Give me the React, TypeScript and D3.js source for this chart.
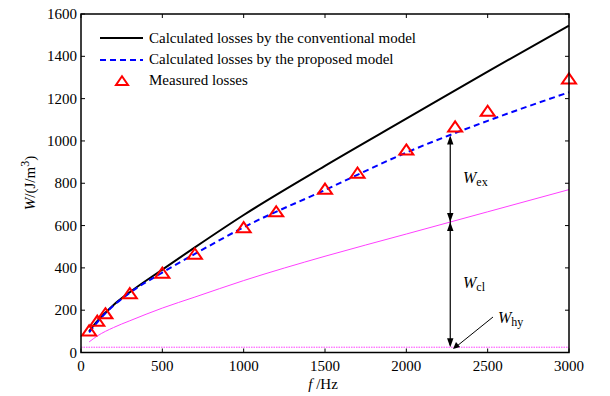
import React from "react";
import * as d3 from "d3";

const freqCurve = [50, 100, 200, 300, 500, 700, 1000, 1500, 2000, 2500, 3000];
const conventional = [100, 148, 225, 285, 392, 497, 650, 882, 1105, 1328, 1545];
const proposed = [95, 143, 222, 282, 378, 466, 592, 768, 945, 1095, 1230];
const classical = [50, 78, 118, 150, 210, 262, 340, 455, 560, 665, 770];
const hysteresis = 25;

const measFreq = [50, 100, 150, 300, 500, 700, 1000, 1200, 1500, 1700, 2000, 2300, 2500, 3000];
const measured = [102, 148, 183, 278, 375, 465, 590, 665, 772, 848, 957, 1066, 1140, 1293];

const xTicks = [0, 500, 1000, 1500, 2000, 2500, 3000];
const yTicks = [0, 200, 400, 600, 800, 1000, 1200, 1400, 1600];

const legendLabels = [
  "Calculated losses by the conventional model",
  "Calculated losses by the proposed model",
  "Measured losses",
];

const arrowF = 2270;

export default function App() {
  const W = 610, H = 396;
  const L = 81, R = 569, T = 14, B = 352.5;
  const x = d3.scaleLinear().domain([0, 3000]).range([L, R]);
  const y = d3.scaleLinear().domain([0, 1600]).range([B, T]);
  const font = "'Liberation Serif', 'Times New Roman', serif";
  const fs = 15;

  const line = d3
    .line<[number, number]>()
    .x((d) => x(d[0]))
    .y((d) => y(d[1]))
    .curve(d3.curveMonotoneX);

  const conv = freqCurve.map((f, i) => [f, conventional[i]] as [number, number]);
  const prop = freqCurve.map((f, i) => [f, proposed[i]] as [number, number]);
  const cl = freqCurve.map((f, i) => [f, classical[i]] as [number, number]);

  const interp = (arr: number[], f: number) => {
    for (let i = 0; i < freqCurve.length - 1; i++) {
      if (f >= freqCurve[i] && f <= freqCurve[i + 1]) {
        const t = (f - freqCurve[i]) / (freqCurve[i + 1] - freqCurve[i]);
        return arr[i] + t * (arr[i + 1] - arr[i]);
      }
    }
    return arr[arr.length - 1];
  };

  const ax = x(arrowF);
  const yTop = y(interp(proposed, arrowF));
  const yMid = y(interp(classical, arrowF));
  const yBot = y(hysteresis);

  const tri = (cx: number, cy: number, s = 7) =>
    `M${cx},${cy - s * 0.8} L${cx + s},${cy + s * 0.65} L${cx - s},${cy + s * 0.65} Z`;

  const head = (px: number, py: number, dir: number) => {
    const l = 9, w = 3.2;
    return `M${px},${py} L${px - w},${py - dir * l} L${px + w},${py - dir * l} Z`;
  };

  const tickLen = 4;

  return (
    <svg width={W} height={H} style={{ position: "absolute", left: 0, top: 0, background: "#fff" }}>
      <rect x={0} y={0} width={W} height={H} fill="#fff" />
      <line x1={x(0)} x2={x(3000)} y1={y(hysteresis)} y2={y(hysteresis)} stroke="#ff40ff" strokeWidth={1} strokeDasharray="1.5,1" />
      <path d={line(cl) || ""} fill="none" stroke="#ff40ff" strokeWidth={1} />
      <path d={line(conv) || ""} fill="none" stroke="#000" strokeWidth={2} />
      <path d={line(prop) || ""} fill="none" stroke="#0000ff" strokeWidth={2} strokeDasharray="6,4" />
      {measFreq.map((f, i) => (
        <path key={i} d={tri(x(f), y(measured[i]))} fill="none" stroke="#ff0000" strokeWidth={2} />
      ))}
      <line x1={ax} x2={ax} y1={yTop + 2} y2={yBot - 2} stroke="#000" strokeWidth={1.2} />
      <path d={head(ax, yTop, -1)} fill="#000" />
      <path d={head(ax, yMid, 1)} fill="#000" />
      <path d={head(ax, yMid, -1)} fill="#000" />
      <path d={head(ax, yBot, 1)} fill="#000" />
      <line x1={493} y1={317} x2={457} y2={346} stroke="#000" strokeWidth={1} />
      <path d="M453,349 L456,342 L460,347 Z" fill="#000" />
      <text x={463} y={183} fontFamily={font} fontSize={16} fontStyle="italic">
        W<tspan fontStyle="normal" fontSize={12} dy={3}>ex</tspan>
      </text>
      <text x={463} y={288} fontFamily={font} fontSize={16} fontStyle="italic">
        W<tspan fontStyle="normal" fontSize={12} dy={3}>cl</tspan>
      </text>
      <text x={498} y={323} fontFamily={font} fontSize={16} fontStyle="italic">
        W<tspan fontStyle="normal" fontSize={12} dy={3}>hy</tspan>
      </text>
      <rect x={L} y={T} width={R - L} height={B - T} fill="none" stroke="#000" strokeWidth={1.5} />
      {xTicks.map((t) => (
        <g key={"x" + t}>
          <line x1={x(t)} x2={x(t)} y1={B} y2={B - tickLen} stroke="#000" />
          <line x1={x(t)} x2={x(t)} y1={T} y2={T + tickLen} stroke="#000" />
          <text x={x(t)} y={371} textAnchor="middle" fontFamily={font} fontSize={fs}>
            {t}
          </text>
        </g>
      ))}
      {yTicks.map((t) => (
        <g key={"y" + t}>
          <line x1={L} x2={L + tickLen} y1={y(t)} y2={y(t)} stroke="#000" />
          <line x1={R} x2={R - tickLen} y1={y(t)} y2={y(t)} stroke="#000" />
          <text x={77} y={y(t) + 5} textAnchor="end" fontFamily={font} fontSize={fs}>
            {t}
          </text>
        </g>
      ))}
      <text x={323} y={389} textAnchor="middle" fontFamily={font} fontSize={fs}>
        <tspan fontStyle="italic">f</tspan> /Hz
      </text>
      <text transform={`translate(35,183) rotate(-90)`} textAnchor="middle" fontFamily={font} fontSize={fs}>
        <tspan fontStyle="italic">W</tspan>/(J/m<tspan dy={-6} fontSize={12}>3</tspan><tspan dy={6}>)</tspan>
      </text>
      <line x1={100} x2={143} y1={38} y2={38} stroke="#000" strokeWidth={2} />
      <line x1={100} x2={143} y1={60} y2={60} stroke="#0000ff" strokeWidth={2} strokeDasharray="6,4" />
      <path d={tri(122, 81, 6)} fill="none" stroke="#ff0000" strokeWidth={2} />
      {legendLabels.map((s, i) => (
        <text key={s} x={149} y={43 + i * 21} fontFamily={font} fontSize={fs}>
          {s}
        </text>
      ))}
    </svg>
  );
}
